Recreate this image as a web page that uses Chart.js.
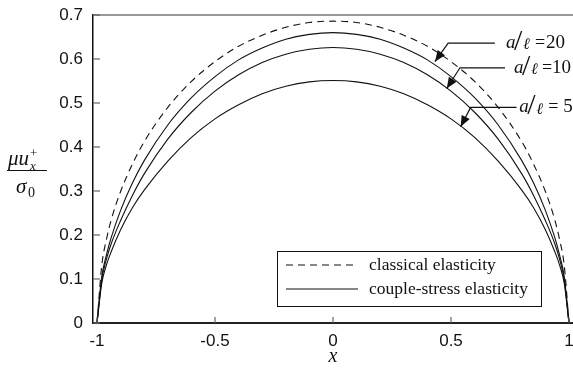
<!DOCTYPE html>
<html>
<head>
<meta charset="utf-8">
<script src="https://cdn.jsdelivr.net/npm/chart.js@4.4.1/dist/chart.umd.min.js"></script>
<style>
  body { margin: 0; background: #fff; }
</style>
</head>
<body>
<canvas id="myChart" width="573" height="376"></canvas>
<script>
// x positions along the crack (x / a)
var xs = [-1, -0.98, -0.96, -0.94, -0.9, -0.85, -0.8, -0.7, -0.6, -0.5, -0.4, -0.3, -0.2, -0.1, 0,
          0.1, 0.2, 0.3, 0.4, 0.5, 0.6, 0.7, 0.8, 0.85, 0.9, 0.94, 0.96, 0.98, 1];

// normalized crack opening
var classical = [0, 0.13, 0.19, 0.234, 0.299, 0.361, 0.412, 0.49, 0.549, 0.594, 0.629, 0.654, 0.672, 0.683, 0.686,
                 0.683, 0.672, 0.654, 0.629, 0.594, 0.549, 0.49, 0.412, 0.361, 0.299, 0.234, 0.19, 0.13, 0];
var ratio20 = [0, 0.105, 0.155, 0.194, 0.256, 0.318, 0.369, 0.45, 0.512, 0.56, 0.598, 0.625, 0.645, 0.656, 0.66,
               0.656, 0.645, 0.625, 0.598, 0.56, 0.512, 0.45, 0.369, 0.318, 0.256, 0.194, 0.155, 0.105, 0];
var ratio10 = [0, 0.098, 0.145, 0.18, 0.233, 0.29, 0.339, 0.418, 0.479, 0.527, 0.564, 0.592, 0.611, 0.622, 0.626,
               0.622, 0.611, 0.592, 0.564, 0.527, 0.479, 0.418, 0.339, 0.29, 0.233, 0.18, 0.145, 0.098, 0];
var ratio5 = [0, 0.09, 0.132, 0.162, 0.212, 0.262, 0.302, 0.368, 0.422, 0.464, 0.496, 0.521, 0.538, 0.548, 0.551,
              0.548, 0.538, 0.521, 0.496, 0.464, 0.422, 0.368, 0.302, 0.262, 0.212, 0.162, 0.132, 0.09, 0];

var xTicks = [-1, -0.5, 0, 0.5, 1];
var yTicks = [0, 0.1, 0.2, 0.3, 0.4, 0.5, 0.6, 0.7];
var ratioLabels = ["20", "10", "5"];
var legendLabels = ["classical elasticity", "couple-stress elasticity"];

// arrow callouts, in data units: tip, knee, end of leader, start of text;
// eqGap / numGap are pixel offsets of "=" and the number from the text start
var callouts = [
  { tip: [0.432, 0.594], knee: [0.488, 0.636], end: 0.686, textX: 0.733, eqGap: 29, numGap: 40 },
  { tip: [0.482, 0.533], knee: [0.538, 0.580], end: 0.729, textX: 0.767, eqGap: 28, numGap: 38 },
  { tip: [0.541, 0.446], knee: [0.583, 0.490], end: 0.778, textX: 0.789, eqGap: 29, numGap: 44 }
];

function toPoints(ys) {
  return xs.map(function (x, i) { return { x: x, y: ys[i] }; });
}

var SANS = '"Liberation Sans", Arial, sans-serif';
var SERIF = '"Liberation Serif", "Times New Roman", serif';

function arrow(ctx, x1, y1, x2, y2) {
  var ang = Math.atan2(y2 - y1, x2 - x1);
  var len = 11, half = 4.5;
  ctx.beginPath();
  ctx.moveTo(x2, y2);
  ctx.lineTo(x2 - len * Math.cos(ang) + half * Math.sin(ang), y2 - len * Math.sin(ang) - half * Math.cos(ang));
  ctx.lineTo(x2 - len * Math.cos(ang) - half * Math.sin(ang), y2 - len * Math.sin(ang) + half * Math.cos(ang));
  ctx.closePath();
  ctx.fill();
}

var decorations = {
  id: "decorations",
  afterDraw: function (chart) {
    var ctx = chart.ctx;
    var xs_ = chart.scales.x, ys_ = chart.scales.y;
    var area = chart.chartArea;
    ctx.save();

    // top frame line
    ctx.strokeStyle = "#777";
    ctx.lineWidth = 1.5;
    ctx.beginPath();
    ctx.moveTo(area.left, area.top);
    ctx.lineTo(area.right, area.top);
    ctx.stroke();

    // inward tick marks
    ctx.strokeStyle = "#666";
    ctx.lineWidth = 1.2;
    yTicks.forEach(function (v) {
      var py = ys_.getPixelForValue(v);
      ctx.beginPath();
      ctx.moveTo(area.left, py);
      ctx.lineTo(area.left + 7, py);
      ctx.stroke();
    });
    xTicks.forEach(function (v) {
      var px = xs_.getPixelForValue(v);
      ctx.beginPath();
      ctx.moveTo(px, area.bottom);
      ctx.lineTo(px, area.bottom - 6);
      ctx.stroke();
    });

    ctx.fillStyle = "#111";
    ctx.strokeStyle = "#111";

    // x axis title
    ctx.font = "italic 20px " + SERIF;
    ctx.textAlign = "center";
    ctx.textBaseline = "middle";
    ctx.fillText("x", xs_.getPixelForValue(0), 357);

    // y axis title as a fraction
    ctx.textAlign = "left";
    ctx.textBaseline = "alphabetic";
    ctx.font = "italic 21px " + SERIF;
    ctx.fillText("\u03bcu", 8, 165);
    var w = ctx.measureText("\u03bcu").width;
    ctx.font = "italic 13px " + SERIF;
    ctx.fillText("x", 8 + w + 1, 170);
    ctx.font = "13px " + SERIF;
    ctx.fillText("+", 8 + w + 1, 157);
    ctx.lineWidth = 1;
    ctx.beginPath();
    ctx.moveTo(7, 170.5);
    ctx.lineTo(47, 170.5);
    ctx.stroke();
    ctx.font = "italic 21px " + SERIF;
    ctx.fillText("\u03c3", 16, 193);
    ctx.font = "14px " + SERIF;
    ctx.fillText("0", 28, 197);

    // callouts
    callouts.forEach(function (c, i) {
      var tx = xs_.getPixelForValue(c.tip[0]), ty = ys_.getPixelForValue(c.tip[1]);
      var kx = xs_.getPixelForValue(c.knee[0]), ky = ys_.getPixelForValue(c.knee[1]);
      var ex = xs_.getPixelForValue(c.end);
      ctx.lineWidth = 1.2;
      ctx.beginPath();
      ctx.moveTo(ex, ky);
      ctx.lineTo(kx, ky);
      ctx.lineTo(tx, ty);
      ctx.stroke();
      arrow(ctx, kx, ky, tx, ty);

      var px = xs_.getPixelForValue(c.textX);
      ctx.textBaseline = "middle";
      ctx.font = "italic 19px " + SERIF;
      ctx.fillText("a", px, ky);
      ctx.font = "30px " + SERIF;
      ctx.fillText("/", px + 8, ky - 1);
      ctx.font = "italic 16px " + SERIF;
      ctx.fillText("\u2113", px + 17, ky + 2);
      ctx.font = "18px " + SERIF;
      ctx.fillText("=", px + c.eqGap, ky);
      ctx.font = "19px " + SERIF;
      ctx.fillText(ratioLabels[i], px + c.numGap, ky);
    });

    // legend box
    ctx.lineWidth = 1;
    ctx.strokeRect(277.5, 251.5, 264, 55);
    ctx.lineWidth = 1.1;
    ctx.setLineDash([7, 5]);
    ctx.beginPath();
    ctx.moveTo(286, 265);
    ctx.lineTo(358, 265);
    ctx.stroke();
    ctx.setLineDash([]);
    ctx.beginPath();
    ctx.moveTo(286, 289);
    ctx.lineTo(358, 289);
    ctx.stroke();
    ctx.font = "17.5px " + SERIF;
    ctx.textBaseline = "middle";
    ctx.fillText(legendLabels[0], 369, 265);
    ctx.fillText(legendLabels[1], 369, 289);

    ctx.restore();
  }
};

function curve(label, ys, dash) {
  return {
    label: label,
    data: toPoints(ys),
    borderColor: "#111",
    borderWidth: 1.1,
    borderDash: dash,
    pointRadius: 0,
    fill: false,
    cubicInterpolationMode: "monotone"
  };
}

var ctx = document.getElementById("myChart").getContext("2d");
var myChart = new Chart(ctx, {
  type: "line",
  data: {
    datasets: [
      curve(legendLabels[0], classical, [7, 5]),
      curve(legendLabels[1], ratio20, []),
      curve(legendLabels[1], ratio10, []),
      curve(legendLabels[1], ratio5, [])
    ]
  },
  options: {
    responsive: false,
    animation: false,
    events: [],
    layout: { padding: { top: 15, left: 0, right: 0, bottom: 0 } },
    plugins: {
      legend: { display: false },
      tooltip: { enabled: false }
    },
    scales: {
      x: {
        type: "linear",
        min: -1.017,
        max: 1.017,
        afterBuildTicks: function (s) { s.ticks = xTicks.map(function (v) { return { value: v }; }); },
        afterFit: function (s) { s.height = 53; s.paddingLeft = 0; s.paddingRight = 0; },
        ticks: {
          font: { family: SANS, size: 17 },
          color: "#111",
          padding: 8,
          maxRotation: 0,
          autoSkip: false,
          callback: function (v) { return String(v); }
        },
        grid: { display: false, drawTicks: false },
        border: { display: true, color: "#222", width: 2 }
      },
      y: {
        min: 0,
        max: 0.7,
        afterBuildTicks: function (s) { s.ticks = yTicks.map(function (v) { return { value: v }; }); },
        afterFit: function (s) { s.width = 93; s.paddingTop = 0; s.paddingBottom = 0; },
        ticks: {
          font: { family: SANS, size: 17 },
          color: "#111",
          padding: 10,
          autoSkip: false,
          callback: function (v) { return String(v); }
        },
        grid: { display: false, drawTicks: false },
        border: { display: true, color: "#111", width: 1.5 }
      }
    }
  },
  plugins: [decorations]
});
</script>
</body>
</html>
